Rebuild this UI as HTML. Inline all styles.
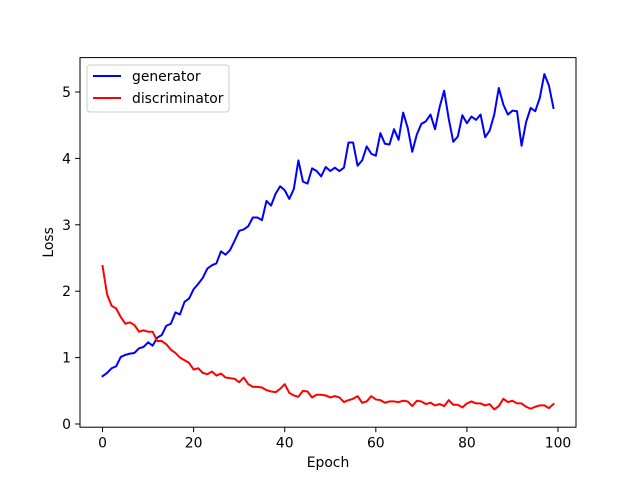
<!DOCTYPE html>
<html><head><meta charset="utf-8"><style>body{margin:0;background:#fff}svg{display:block;font-family:"DejaVu Sans","Liberation Sans",sans-serif}</style></head>
<body>
<svg id="chart" width="640" height="480"></svg>
<script>
const epochs = Array.from({length:100},(_,i)=>i);
const generator = [0.72,0.77,0.84,0.87,1.01,1.04,1.06,1.07,1.14,1.16,1.23,1.18,1.30,1.34,1.48,1.51,1.68,1.65,1.84,1.89,2.03,2.11,2.20,2.34,2.39,2.42,2.60,2.55,2.62,2.76,2.91,2.93,2.98,3.11,3.11,3.07,3.36,3.29,3.47,3.58,3.52,3.39,3.54,3.97,3.65,3.62,3.85,3.81,3.73,3.87,3.81,3.86,3.81,3.86,4.24,4.24,3.89,3.97,4.18,4.07,4.04,4.38,4.22,4.21,4.44,4.28,4.69,4.46,4.10,4.36,4.52,4.56,4.66,4.44,4.77,5.02,4.60,4.25,4.33,4.65,4.53,4.63,4.58,4.66,4.32,4.42,4.66,5.06,4.81,4.66,4.72,4.71,4.19,4.55,4.76,4.71,4.91,5.27,5.10,4.76];
const discriminator = [2.38,1.95,1.78,1.74,1.61,1.51,1.53,1.49,1.39,1.41,1.39,1.39,1.25,1.25,1.20,1.12,1.07,1.00,0.96,0.92,0.82,0.84,0.77,0.75,0.79,0.73,0.76,0.70,0.69,0.68,0.63,0.70,0.60,0.56,0.56,0.55,0.51,0.49,0.48,0.53,0.60,0.47,0.43,0.41,0.50,0.49,0.40,0.44,0.44,0.43,0.40,0.42,0.40,0.33,0.36,0.38,0.42,0.32,0.34,0.42,0.37,0.36,0.32,0.34,0.34,0.33,0.35,0.34,0.27,0.35,0.34,0.30,0.32,0.28,0.30,0.27,0.36,0.29,0.29,0.25,0.31,0.34,0.31,0.31,0.28,0.30,0.22,0.27,0.38,0.33,0.35,0.31,0.31,0.26,0.23,0.26,0.28,0.28,0.24,0.30];
const xTicks = [0,20,40,60,80,100];
const yTicks = [0,1,2,3,4,5];
const L=80,R=576,T=57.6,B=427.2;
const xmin=-4.95,xmax=103.95;
const ymin=-0.048,ymax=5.518;
const FS=13.9;
const sx=v=>L+(v-xmin)/(xmax-xmin)*(R-L);
const sy=v=>B-(v-ymin)/(ymax-ymin)*(B-T);
const svg=document.getElementById('chart');
const NS='http://www.w3.org/2000/svg';
function mk(tag,attrs,parent){const e=document.createElementNS(NS,tag);for(const k in attrs)e.setAttribute(k,attrs[k]);(parent||svg).appendChild(e);return e;}
function series(vals,color,name){
  const p=mk('polyline',{points:vals.map((v,i)=>sx(epochs[i])+','+sy(v)).join(' '),fill:'none',stroke:color,'stroke-width':2,'stroke-linejoin':'round','stroke-linecap':'square'});
  
  
}
series(generator,'#0000ff','generator-line');
series(discriminator,'#ff0000','discriminator-line');
const frame=mk('rect',{x:L,y:T,width:R-L,height:B-T,fill:'none',stroke:'#000','stroke-width':1});


xTicks.forEach(t=>{
  const x=sx(t);
  const tk=mk('line',{x1:x,x2:x,y1:B,y2:B+4.9,stroke:'#000','stroke-width':1});
  
  
  const tx=mk('text',{x:x,y:B+20.5,'text-anchor':'middle','font-size':FS});
  tx.textContent=t;
  
  
});
yTicks.forEach(t=>{
  const y=sy(t);
  const tk=mk('line',{x1:L-4.9,x2:L,y1:y,y2:y,stroke:'#000','stroke-width':1});
  
  
  const tx=mk('text',{x:L-9,y:y+5,'text-anchor':'end','font-size':FS});
  tx.textContent=t;
  
  
});
const xl=mk('text',{x:(L+R)/2,y:467,'text-anchor':'middle','font-size':FS});
xl.textContent='Epoch';


const yl=mk('text',{x:53,y:(T+B)/2,'text-anchor':'middle','font-size':FS,transform:'rotate(-90 53 '+((T+B)/2)+')'});
yl.textContent='Loss';


const lg=mk('g',{});


mk('rect',{x:87,y:65,width:142,height:47,rx:3,fill:'#fff',stroke:'#ccc','stroke-width':1},lg);
[['generator','#0000ff',76],['discriminator','#ff0000',98]].forEach(([n,c,y])=>{
  const g=mk('g',{},lg);
  
  
  mk('line',{x1:93,x2:121,y1:y,y2:y,stroke:c,'stroke-width':2},g);
  const t=mk('text',{x:132,y:y+5,'font-size':FS},g);
  t.textContent=n;
});
</script>
</body></html>
